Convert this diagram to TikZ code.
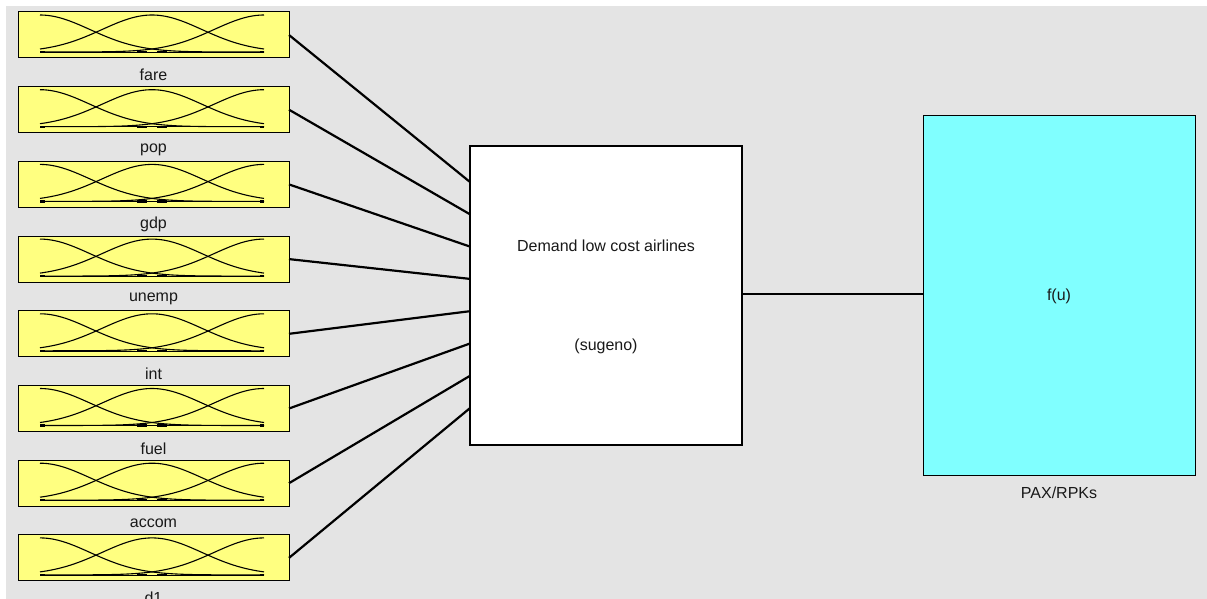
\documentclass[tikz,border=0pt]{standalone}
\usepackage{fontspec}
\setmainfont{Liberation Sans}
\definecolor{bggray}{RGB}{228,228,228}
\definecolor{mfyellow}{RGB}{255,255,128}
\definecolor{outcyan}{RGB}{128,255,255}
\tikzset{
  inbox/.style={draw=black, line width=1pt, fill=mfyellow, minimum width=271pt, minimum height=46pt, inner sep=0pt, outer sep=0pt},
  fisbox/.style={draw=black, line width=2pt, fill=white, minimum width=272pt, minimum height=299pt, inner sep=0pt, outer sep=0pt},
  outbox/.style={draw=black, line width=1pt, fill=outcyan, minimum width=272pt, minimum height=359pt, inner sep=0pt, outer sep=0pt},
  lbl/.style={font=\fontsize{16}{18}\selectfont, text=black!90, inner sep=0pt},
  conn/.style={draw=black, line width=2.2pt},
  mf/.style={draw=black, line width=1.1pt},
}
\begin{document}
\begin{tikzpicture}[x=1pt,y=-1pt]
\useasboundingbox (0,0) rectangle (1207,599);
\fill[white] (0,0) rectangle (1207,599);
\fill[bggray] (6,6) rectangle (1207,599);

% central FIS box and output box
\node[fisbox] (fis) at (606,295.5) {};
\node[lbl] (fistitle) at (606,246) {Demand low cost airlines};
\node[lbl] (fistype) at (606,346) {(sugeno)};
\node[outbox] (out) at (1059,295.5) {};
\node[lbl] (outfn) at (1059,296) {f(u)};
\node[lbl] (outname) at (1059,493) {PAX/RPKs};
\draw[conn] (fis.east |- 0,294) -- (out.west |- 0,294);

% input boxes
\foreach \i/\name in {0/fare,1/pop,2/gdp,3/unemp,4/int,5/fuel,6/accom,7/d1}{
  \pgfmathsetmacro{\T}{12+74.7*\i}
  \node[inbox] (in\i) at (153.5,\T+23) {};
  \node[lbl] (lab\i) at (153.5,\T+63) {\name};
  \foreach \c in {40,152,264}{
    \draw[mf] plot[domain=40:264, samples=60, smooth] (\x,{\T+40-37*exp(-0.5*((\x-\c)/50)^2)});
  }
  \draw[line width=0.6pt] (40,\T+40) -- (264,\T+40);
  \draw[line width=2.2pt] (40,\T+40) -- (45,\T+40);
  \draw[line width=2.2pt] (137,\T+40) -- (147,\T+40);
  \draw[line width=2.2pt] (157,\T+40) -- (167,\T+40);
  \draw[line width=2.2pt] (260,\T+40) -- (264,\T+40);
  \pgfmathsetmacro{\dy}{36+32.3*\i}
  \draw[conn] (in\i.east) -- ([yshift=-\dy pt]fis.north west);
}
\end{tikzpicture}
\end{document}
